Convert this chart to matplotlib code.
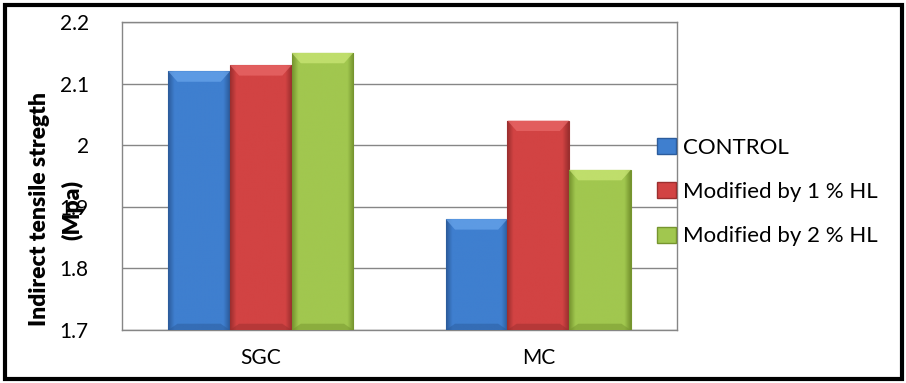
import numpy as np
import matplotlib
matplotlib.use("Agg")
import matplotlib.pyplot as plt
from matplotlib.patches import Patch, Rectangle, Polygon
from matplotlib.colors import to_rgb

plt.rcParams['font.family'] = ['Lato', 'DejaVu Sans']

# data
categories = ['SGC', 'MC']
series_names = ['CONTROL', 'Modified by 1 % HL', 'Modified by 2 % HL']
control = [2.12, 1.88]
hl_1 = [2.13, 2.04]
hl_2 = [2.15, 1.96]

# base colour, dark edge colour, light bevel colour
styles = [
    ('#3f7fcf', '#2c5c9c', '#6aa6ec'),
    ('#d24343', '#9c2f2f', '#ea6a6a'),
    ('#a1c74f', '#76952f', '#cce878'),
]

fig = plt.figure(figsize=(9.06, 3.83), dpi=100)
ax = fig.add_axes([122 / 906, 1 - 330 / 383, 555 / 906, 308 / 383])

x = np.arange(len(categories))
width = 1 / 4.5
values = [control, hl_1, hl_2]


def shade_bar(rect, base, dark, light):
    x0, y0 = rect.get_x(), rect.get_y()
    w, h = rect.get_width(), rect.get_height()
    # horizontal gradient: darker at the sides, base colour in the middle
    t = np.linspace(0, 1, 64)
    k = np.clip(np.minimum(t, 1 - t) / 0.1, 0, 1)
    b, d = np.array(to_rgb(base)), np.array(to_rgb(dark))
    row = d[None, :] * (1 - k[:, None]) + b[None, :] * k[:, None]
    img = np.repeat(row[None, :, :], 2, axis=0)
    im = ax.imshow(img, extent=(x0, x0 + w, y0, y0 + h), aspect='auto',
                   zorder=3, interpolation='bilinear')
    im.set_clip_path(rect)
    # top bevel
    dx = w * 0.15
    dy = 0.017
    top = y0 + h
    ax.add_patch(Polygon([(x0, top), (x0 + w, top), (x0 + w - dx, top - dy),
                          (x0 + dx, top - dy)], closed=True,
                         facecolor=light, edgecolor='none', alpha=0.7, zorder=4))
    # bottom shade
    ax.add_patch(Polygon([(x0, y0), (x0 + w, y0), (x0 + w - dx, y0 + dy * 0.6),
                          (x0 + dx, y0 + dy * 0.6)], closed=True,
                         facecolor=dark, edgecolor='none', alpha=0.5, zorder=4))


for i, (vals, (base, dark, light)) in enumerate(zip(values, styles)):
    bars = ax.bar(x + (i - 1) * width, np.array(vals) - 1.7, width, bottom=1.7,
                  color=base, edgecolor=dark, linewidth=0.8, zorder=3)
    for rect in bars:
        shade_bar(rect, base, dark, light)

ax.set_xlim(-0.5, 1.5)
ax.set_ylim(1.7, 2.2)
ax.set_yticks(np.arange(1.7, 2.21, 0.1))
ax.set_yticklabels(['1.7', '1.8', '1.9', '2', '2.1', '2.2'])
ax.set_xticks(x)
ax.set_xticklabels(categories)
ax.tick_params(axis='y', length=0, pad=24, labelsize=15)
ax.tick_params(axis='x', length=0, pad=13, labelsize=15)
ax.yaxis.grid(True, color='#868686', linewidth=1)
ax.set_axisbelow(True)
for s in ax.spines.values():
    s.set_color('#868686')
    s.set_linewidth(1)

fig.text(40 / 906, 1 - 209 / 383, 'Indirect tensile stregth', rotation=90,
         ha='center', va='center', fontsize=16.5, fontweight='heavy')
fig.text(72 / 906, 1 - 210 / 383, '(Mpa)', rotation=90,
         ha='center', va='center', fontsize=16.5, fontweight='heavy')

handles = [Patch(facecolor=b, edgecolor=d) for b, d, _ in styles]
fig.legend(handles, series_names, loc='center left',
           bbox_to_anchor=(657 / 906, 1 - 192 / 383), frameon=False,
           fontsize=16, handlelength=0.85, handleheight=0.75,
           handletextpad=0.3, labelspacing=1.1, borderpad=0, borderaxespad=0)

fig.add_artist(Rectangle((5 / 906, 4 / 383), 897 / 906, 374 / 383,
                         transform=fig.transFigure, fill=False,
                         edgecolor='black', linewidth=3))

fig.savefig('out.png', dpi=100)
